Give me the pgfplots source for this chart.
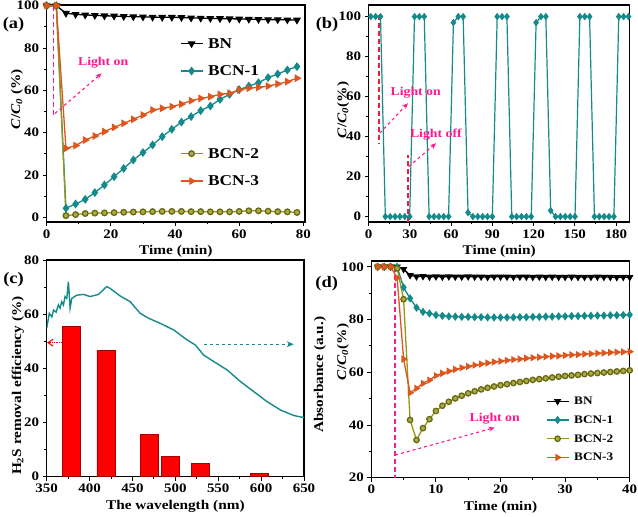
\documentclass[border=0pt]{standalone}
\usepackage{fontspec}
\setmainfont{Liberation Serif}[FakeStretch=1.15]
\usepackage{pgfplots}
\pgfplotsset{compat=1.18}
\usetikzlibrary{arrows.meta}

\definecolor{cBone}{RGB}{20,138,138}
\definecolor{cBtwo}{RGB}{150,150,25}
\definecolor{cBthree}{RGB}{222,85,30}
\definecolor{cpink}{RGB}{255,25,140}
\definecolor{cred}{RGB}{240,30,60}
\newcommand{\fs}[1]{\fontsize{#1}{#1}\selectfont}
\newcommand{\CC}{\textit{C}/\textit{C}\textsubscript{\textit{0}}}

\tikzset{vdash/.style={line width=1.5pt, dash pattern=on 5pt off 3pt}}
\pgfplotsset{
  pan/.style={scale only axis, anchor=south west,
    axis line style={line width=1.1pt},
    tick align=outside, xtick pos=left, ytick pos=left,
    minor x tick num=1, minor y tick num=1,
    major tick length=4pt, minor tick length=2.5pt,
    tick style={black, line width=0.9pt},
    /pgf/number format/assume math mode=true,
    tick label style={font=\bfseries\fs{13}},
    label style={font=\bfseries\fs{13.3}},
    legend image code/.code={\draw[mark repeat=2,mark phase=2,##1] plot coordinates {(0pt,0pt) (11pt,0pt) (22pt,0pt)};},
  },
  bn/.style={black, line width=1.3pt, mark=triangle*, mark size=3.3pt, mark options={rotate=180, solid}},
  b1/.style={cBone, line width=1.3pt, mark=diamond*, mark size=3.4pt, mark options={solid}},
  b2/.style={cBtwo, line width=1.3pt, mark=*, mark size=2.8pt, mark options={solid, fill=cBtwo!80!white, draw=cBtwo!70!black}},
  b3/.style={cBthree, line width=1.3pt, mark=triangle*, mark size=3.3pt, mark options={rotate=-90, solid}},
}

\begin{document}
\begin{tikzpicture}[x=1pt,y=1pt]
\useasboundingbox (0,0) rectangle (638,517);

% ---------------- (a)
\begin{axis}[pan, at={(46.7pt,295pt)}, width=258.3pt, height=217pt,
  xmin=0, xmax=80.5, ymin=-2.2, ymax=100.3,
  xtick={0,20,...,80}, ytick={0,20,...,100},
  xlabel={Time (min)}, ylabel={\CC{} (\%)},
  ylabel style={at={(axis description cs:-0.115,0.567)}, anchor=center},
  legend style={at={(0.515,0.86)}, anchor=north west, draw=none, fill=none,
    font=\bfseries\fs{15}, row sep=11.5pt, inner sep=0pt, column sep=3pt},
  legend cell align=left]
\addplot[bn, forget plot] coordinates {(0,100)(3,100)(6,96.4)(9,95.9)(12,95.6)(15,95.4)(18,95.2)(21,95.1)(24,94.9)(27,94.8)(30,94.7)(33,94.6)(36,94.5)(39,94.5)(42,94.4)(45,94.2)(48,94.1)(51,94.0)(54,93.9)(57,93.8)(60,93.7)(63,93.6)(66,93.5)(69,93.4)(72,93.4)(75,93.3)(78,93.2)};
\addplot[b1, forget plot] coordinates {(0,100)(3,100)(6,4.3)(9,6.3)(12,8.5)(15,11.7)(18,15.3)(21,19.2)(24,23.1)(27,27.1)(30,30.6)(33,34.2)(36,38.1)(39,41.6)(42,45)(45,47.6)(48,50.4)(51,52.6)(54,55.7)(57,58.1)(60,60.3)(63,62)(66,63.6)(69,66)(72,67.7)(75,69.6)(78,71.2)};
\addplot[b2, forget plot] coordinates {(0,100)(3,100)(6,0.8)(9,1.3)(12,1.8)(15,2.0)(18,2.1)(21,2.2)(24,2.4)(27,2.5)(30,2.6)(33,2.7)(36,2.8)(39,2.8)(42,2.8)(45,2.7)(48,2.7)(51,2.6)(54,2.6)(57,2.6)(60,2.8)(63,3.1)(66,3.1)(69,2.9)(72,2.7)(75,2.6)(78,2.3)};
\addplot[b3, forget plot] coordinates {(0,100)(3,100)(6,32.6)(9,33.9)(12,36.5)(15,38.4)(18,40.5)(21,42.5)(24,44.4)(27,46.3)(30,48.3)(33,50.7)(36,51.5)(39,52.3)(42,53.5)(45,55.1)(48,56.2)(51,57)(54,58.1)(57,58.6)(60,60.2)(63,61)(66,61.4)(69,62)(72,63)(75,64.1)(78,65.7)};
\addlegendimage{bn}\addlegendentry{\strut BN}
\addlegendimage{b1}\addlegendentry{\strut BCN-1}
\addlegendimage{empty legend}\addlegendentry{\strut}
\addlegendimage{empty legend}\addlegendentry{\strut}
\addlegendimage{b2}\addlegendentry{\strut BCN-2}
\addlegendimage{b3}\addlegendentry{\strut BCN-3}
\draw[draw=cpink, vdash] (axis cs:2.1,100) -- (axis cs:2.1,48.3);
\draw[draw=cpink, line width=1.1pt, dashed, -{Stealth[length=6pt,width=5pt]}] (axis cs:2.6,49.1) -- (axis cs:17.1,68);
\node[text=cpink, font=\bfseries\fs{12}] at (axis cs:17.6,73) {Light on};
\end{axis}

% ---------------- (b)
\begin{axis}[pan, at={(368.7pt,295pt)}, width=261pt, height=217pt,
  xmin=0, xmax=190, ymin=-2.7, ymax=105.8,
  xtick={0,30,...,180}, ytick={0,20,...,100},
  xlabel={Time (min)}, ylabel={\CC(\%)},
  ylabel style={at={(axis description cs:-0.098,0.516)}, anchor=center}]
\addplot[cBone, line width=1.2pt, mark=diamond*, mark size=2.8pt, mark options={solid}] coordinates {
(1.5,100)(5.04,100)(8.58,100)(12.12,0)(15.66,0)(19.2,0)(22.74,0)(26.28,0)(29.82,0)
(33.36,100)(36.9,100)(40.44,100)(43.98,0)(47.52,0)(51.06,0)(54.6,0)(58.14,0)
(61.68,97)(65.22,100)(68.76,100)(72.3,2)(75.84,0)(79.38,0)(82.92,0)(86.46,0)(90,0)
(93.54,100)(97.08,100)(100.62,100)(104.16,0)(107.7,0)(111.24,0)(114.78,0)(118.32,0)
(121.86,97)(125.4,100)(128.94,100)(132.48,3)(136.02,0)(139.56,0)(143.1,0)(146.64,0)(150.18,0)
(153.72,100)(157.26,100)(160.8,100)(164.34,0)(167.88,0)(171.42,0)(174.96,0)(178.5,0)
(182.04,100)(185.58,100)(189.12,100)};
\draw[draw=cred, vdash] (axis cs:7.5,101) -- (axis cs:7.5,36.7);
\draw[draw=cpink, line width=1.1pt, dashed, -{Stealth[length=6pt,width=5pt]}] (axis cs:8,41.7) -- (axis cs:28.6,56.7);
\node[text=cpink, font=\bfseries\fs{12}] at (axis cs:34.2,62.2) {Light on};
\draw[draw=cred, vdash] (axis cs:28.6,-2.7) -- (axis cs:28.6,30.8);
\draw[draw=cpink, line width=1.1pt, dashed, -{Stealth[length=6pt,width=5pt]}] (axis cs:29.1,25) -- (axis cs:49.1,36.7);
\node[text=cpink, font=\bfseries\fs{12}] at (axis cs:48.9,41.2) {Light off};
\end{axis}

% ---------------- (c)
\begin{axis}[pan, at={(46.7pt,40.3pt)}, width=257.3pt, height=216.7pt,
  xmin=350, xmax=650, ymin=0, ymax=80,
  xtick={350,400,...,650}, ytick={0,20,...,80},
  xlabel={The wavelength (nm)}, ylabel={H\textsubscript{2}S removal efficiency (\%)},
  ylabel style={at={(axis description cs:-0.112,0.42)}, anchor=center}]
\addplot[ybar, bar width=21, fill=red, draw=red!65!black, line width=0.5pt] coordinates {(379,55.4)(419,46.5)(469.4,15.75)(494.3,7.4)(529.6,4.8)(597.6,1.2)};
\draw[draw=red, line width=1.1pt, densely dotted, -{Straight Barb[length=5pt,width=7pt]}] (axis cs:367.5,49.5) -- (axis cs:350.5,49.5);
\end{axis}
\begin{axis}[scale only axis, anchor=south west, at={(46.7pt,40.3pt)}, width=257.3pt, height=216.7pt,
  xmin=350, xmax=650, ymin=0, ymax=80,
  axis x line=none, axis y line*=right, ytick=\empty,
  axis line style={line width=1.1pt},
  ylabel={Absorbance (a.u.)},
  ylabel style={font=\bfseries\fs{13.3}, at={(axis description cs:1.062,0.47)}, anchor=center}]
\addplot[cBone, line width=1.4pt] coordinates {(350,54.8)(353,60.3)(356,59)(358,61.5)(361,60.7)(363.6,63.4)(365.6,62.2)(367.5,64.6)(369.5,63.4)(371.4,66.5)(373.4,65.8)(375.3,72)(377.3,62.2)(379.2,65.8)(385,67)(392.9,67.3)(400.6,66.5)(410.4,67.3)(420,70.2)(424,69.5)(435.7,66.7)(447.4,64.6)(459,60.3)(468.8,58.5)(482.5,56.6)(498,54.2)(513.6,50.5)(523.4,48.6)(533,44.9)(544.8,42.5)(560.4,39.4)(576,35.1)(591.5,31.4)(607,27.7)(622.7,24.6)(638,22.6)(650,21.8)};
\draw[draw=cBone, line width=1.1pt, dashed, -{Stealth[length=7pt,width=6pt]}] (axis cs:533,48.9) -- (axis cs:638,48.9);
\end{axis}

% ---------------- (d)
\begin{axis}[pan, at={(371.3pt,39.3pt)}, width=258.4pt, height=216.7pt,
  xmin=0, xmax=40, ymin=20, ymax=102.2,
  xtick={0,10,...,40}, ytick={20,40,...,100},
  xlabel={Time (min)}, ylabel={\CC(\%)},
  ylabel style={at={(axis description cs:-0.11,0.58)}, anchor=center},
  legend style={at={(0.675,0.385)}, anchor=north west, draw=none, fill=none,
    font=\bfseries\fs{11.5}, row sep=5.2pt, inner sep=0pt, column sep=3pt},
  legend cell align=left]
\addplot[bn, mark size=3pt] coordinates {(1,100)(2,100)(3,100)(4,100)(5,99.1)(6,96.8)(7,96.3)(8,96.4)(9,96.2)(10,96.3)(11,96.2)(12,96.3)(13,96.2)(14,96.2)(15,96.3)(16,96.2)(17,96.2)(18,96.1)(19,96.2)(20,96.2)(21,96.2)(22,96.1)(23,96.2)(24,96.2)(25,96.1)(26,96.2)(27,96.1)(28,96.2)(29,96.1)(30,96.1)(31,96.2)(32,96.1)(33,96.1)(34,96.1)(35,96.2)(36,96.1)(37,96.1)(38,96.0)(39,96.1)(40,96.0)};
\addlegendentry{\strut BN}
\addplot[b1, mark size=3.1pt] coordinates {(1,100)(2,100)(3,100)(4,100)(5,92.2)(6,88)(7,84.5)(8,82.9)(9,82.3)(10,81.7)(11,81.4)(12,81.2)(13,81.1)(14,81)(15,81)(16,80.9)(17,80.9)(18,80.8)(19,80.8)(20,80.8)(21,80.8)(22,80.8)(23,80.9)(24,80.9)(25,81)(26,81)(27,81.1)(28,81.1)(29,81.2)(30,81.2)(31,81.3)(32,81.3)(33,81.4)(34,81.4)(35,81.5)(36,81.5)(37,81.6)(38,81.6)(39,81.7)(40,81.8)};
\addlegendentry{\strut BCN-1}
\addplot[b2, mark size=2.7pt] coordinates {(1,100)(2,100)(3,100)(4,99.4)(5,87.7)(6,41.9)(7,34.3)(8,38.8)(9,42.2)(10,45.3)(11,47.3)(12,48.8)(13,50.1)(14,51.1)(15,52)(16,52.8)(17,53.5)(18,54.1)(19,54.6)(20,55.1)(21,55.5)(22,55.9)(23,56.3)(24,56.7)(25,57.1)(26,57.4)(27,57.7)(28,58)(29,58.3)(30,58.6)(31,58.8)(32,59)(33,59.3)(34,59.5)(35,59.7)(36,59.9)(37,60.1)(38,60.3)(39,60.5)(40,60.7)};
\addlegendentry{\strut BCN-2}
\addplot[b3, mark size=3pt] coordinates {(1,100)(2,100)(3,100)(4,95.8)(5,65)(6,52.2)(7,53.9)(8,55.8)(9,57)(10,58.7)(11,59.6)(12,60.4)(13,61.1)(14,61.7)(15,62.2)(16,62.7)(17,63.1)(18,63.5)(19,63.9)(20,64.2)(21,64.5)(22,64.8)(23,65)(24,65.3)(25,65.5)(26,65.7)(27,65.9)(28,66.1)(29,66.2)(30,66.4)(31,66.6)(32,66.7)(33,66.9)(34,67)(35,67.2)(36,67.3)(37,67.5)(38,67.6)(39,67.7)(40,67.8)};
\addlegendentry{\strut BCN-3}
\draw[draw=cpink, vdash] (axis cs:3.7,100) -- (axis cs:3.7,20);
\draw[draw=cpink, line width=1.1pt, dashed, -{Stealth[length=6pt,width=5pt]}] (axis cs:3.7,28.6) -- (axis cs:19.1,39);
\node[text=cpink, font=\bfseries\fs{12}] at (axis cs:19.1,42.5) {Light on};
\end{axis}

% panel labels
\node[font=\bfseries\fs{16}] at (13.5,492) {(a)};
\node[font=\bfseries\fs{16}] at (327,492) {(b)};
\node[font=\bfseries\fs{16}] at (13.5,237) {(c)};
\node[font=\bfseries\fs{16}] at (326.7,233.7) {(d)};
\end{tikzpicture}
\end{document}
